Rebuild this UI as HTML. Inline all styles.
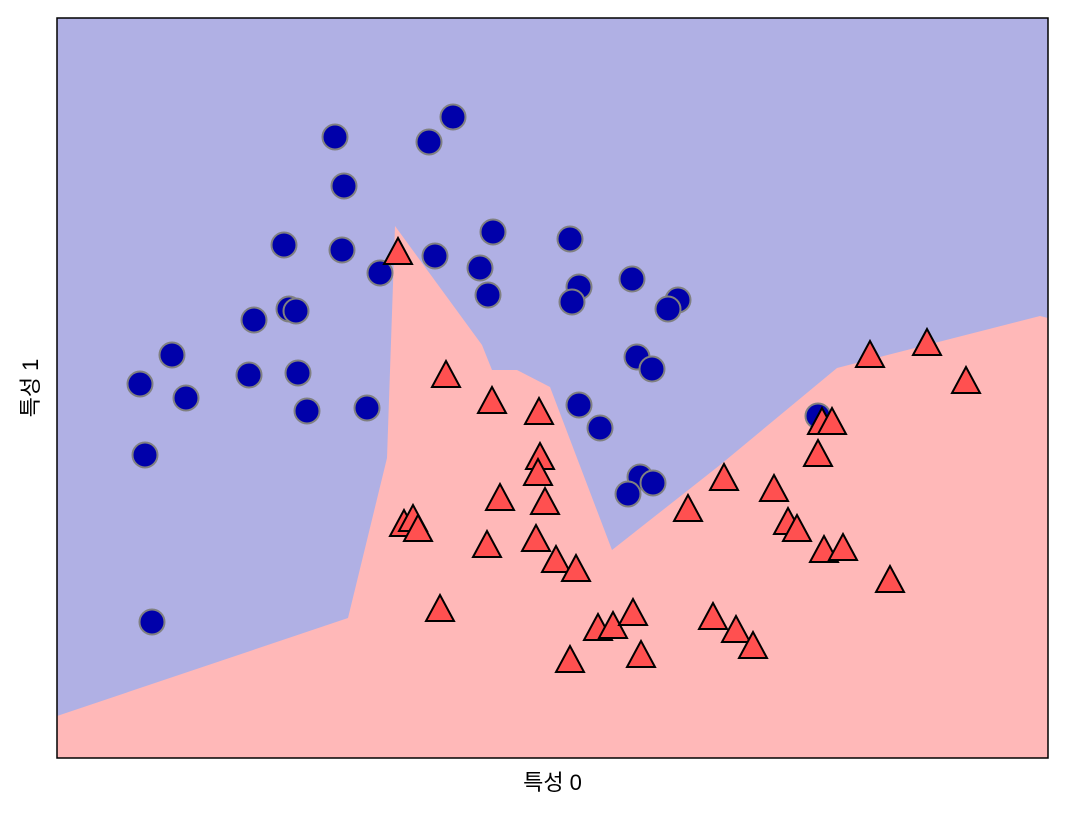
<!DOCTYPE html>
<html><head><meta charset="utf-8"><style>
html,body{margin:0;padding:0;background:#fff;}
svg{display:block;font-family:"Liberation Sans","Noto Sans CJK KR",sans-serif;}
</style></head><body>
<svg id="chart" width="1069" height="816"></svg>
<script>
// data (in plot coordinate units; domain set below)
const xDomain=[57,1048];
const yDomain=[18,758];
const class0X=[335,429,453,344,284,342,380,435,493,480,488,570,579,572,632,678,668,254,289,296,172,140,186,249,298,307,367,145,152,637,652,579,600,640,653,628,818];
const class0Y=[137,142,117,186,245,250,273,256,232,268,295,239,287,302,279,300,309,320,309,311,355,384,398,375,373,411,408,455,622,357,369,405,428,477,483,494,416];
const class1X=[398,446,492,539,540,538,545,500,536,487,556,576,404,413,418,440,570,598,613,633,641,713,736,753,688,724,774,788,797,818,822,832,824,843,890,870,927,966];
const class1Y=[253,376,402,413,458,474,503,499,540,546,561,570,525,520,530,610,661,629,627,614,656,618,631,647,510,479,490,523,530,455,423,423,551,549,581,356,344,382];
const boundaryX=[57,348,387,395,482,492,517,550,612,720,837,1040,1048,1048,57];
const boundaryY=[716,618,458,226,345,370,370,387,550,465,368,316,318,758,758];

const L=57,R=1048,T=18,B=758;
const sx=v=>L+(v-xDomain[0])/(xDomain[1]-xDomain[0])*(R-L);
const sy=v=>T+(v-yDomain[0])/(yDomain[1]-yDomain[0])*(B-T);
const NS="http://www.w3.org/2000/svg";
const svg=document.getElementById('chart');
function mk(tag,attrs){const e=document.createElementNS(NS,tag);for(const k in attrs)e.setAttribute(k,attrs[k]);svg.appendChild(e);return e;}

let e=mk('rect',{x:L,y:T,width:R-L,height:B-T,fill:'#b0b0e4'});


const pts=boundaryX.map((v,i)=>sx(v)+','+sy(boundaryY[i])).join(' ');
e=mk('polygon',{points:pts,fill:'#ffb8b8'});



class0X.forEach((v,i)=>{
  const c=mk('circle',{cx:sx(v),cy:sy(class0Y[i]),r:12.5,fill:'#0000aa',stroke:'#808080','stroke-width':2});
  
  
});
class1X.forEach((v,i)=>{
  const cx=sx(v),cy=sy(class1Y[i]);
  const p=mk('polygon',{points:`${cx},${cy-15} ${cx-14},${cy+11} ${cx+14},${cy+11}`,fill:'#ff5050',stroke:'#000','stroke-width':2,'stroke-linejoin':'miter'});
  
  
});

e=mk('rect',{x:L,y:T,width:R-L,height:B-T,fill:'none',stroke:'#000','stroke-width':1.5});



e=mk('text',{x:(L+R)/2,y:790,'text-anchor':'middle','font-size':22,fill:'#000'});
e.textContent='특성 0';


e=mk('text',{x:0,y:0,'text-anchor':'middle','font-size':22,fill:'#000',transform:`translate(38,${(T+B)/2}) rotate(-90)`});
e.textContent='특성 1';


</script>
</body></html>
